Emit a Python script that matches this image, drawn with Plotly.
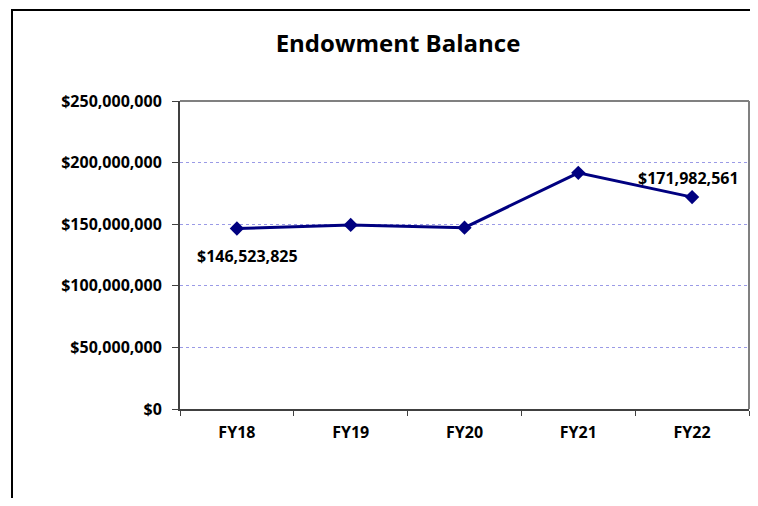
import plotly.graph_objects as go

categories = ["FY18", "FY19", "FY20", "FY21", "FY22"]
balances = [146523825, 149400000, 147200000, 191700000, 171982561]
label_points = {0: "$146,523,825", 4: "$171,982,561"}
y_ticks = [0, 50000000, 100000000, 150000000, 200000000, 250000000]
y_tick_text = ["$0", "$50,000,000", "$100,000,000", "$150,000,000", "$200,000,000", "$250,000,000"]

FONT = "'Open Sans', Lato, sans-serif"
FS = 16

W, H = 742, 490
L, R, T, B = 172, 741, 93, 401
PW, PH = R - L, B - T

fig = go.Figure()
fig.add_trace(go.Scatter(
    x=categories, y=balances, mode="lines+markers",
    line=dict(color="#000080", width=3),
    marker=dict(symbol="diamond", size=11, color="#000080"),
    hoverinfo="skip", showlegend=False,
))

for i, txt in label_points.items():
    if i == 0:
        fig.add_annotation(x=categories[i], y=balances[i], text="<b>%s</b>" % txt,
                           showarrow=False, xshift=11, yshift=-28,
                           font=dict(family=FONT, size=FS, color="black"))
    else:
        fig.add_annotation(x=categories[i], y=balances[i], text="<b>%s</b>" % txt,
                           showarrow=False, xshift=-4, yshift=19,
                           font=dict(family=FONT, size=FS, color="black"))

# outer frame (left and top edges; the rest lies outside the picture)
x_left = (4 - L) / PW
y_top = (B - 2) / PH
fig.add_shape(type="path", xref="paper", yref="paper",
              path="M %f,%f L %f,%f L %f,%f" % (x_left, -0.6, x_left, y_top, 1.3, y_top),
              line=dict(color="black", width=2), layer="below")

fig.update_layout(
    width=W, height=H,
    margin=dict(l=L, r=W - R, t=T, b=H - B, autoexpand=False),
    paper_bgcolor="white", plot_bgcolor="white",
    title=dict(text="<b>Endowment Balance</b>", x=390 / W, xanchor="center",
               y=1 - 36 / H, yanchor="middle",
               font=dict(family=FONT, size=24, color="black")),
    font=dict(family=FONT, color="black"),
    xaxis=dict(
        type="category", range=[-0.5, 4.5], tickson="boundaries",
        ticks="outside", ticklen=5, tickcolor="#404040", tickwidth=1,
        showline=True, linecolor="#404040", linewidth=2, mirror=False,
        showgrid=False, tickfont=dict(family=FONT, size=FS, color="black"),
        tickprefix="<b>", ticksuffix="</b>", ticklabelstandoff=8, fixedrange=True,
    ),
    yaxis=dict(
        range=[0, 250000000], tickvals=y_ticks,
        ticktext=["<b>%s</b>" % t for t in y_tick_text],
        ticks="outside", ticklen=6, tickcolor="#404040", tickwidth=1,
        showline=True, linecolor="#404040", linewidth=2,
        showgrid=True, gridcolor="#9a9ae6", griddash="dot", gridwidth=1,
        zeroline=False, tickfont=dict(family=FONT, size=FS, color="black"),
        ticklabelstandoff=7, fixedrange=True,
    ),
)

# gray plot-area border on top and right
fig.add_shape(type="line", xref="paper", yref="paper", x0=0, x1=1, y0=1, y1=1,
              line=dict(color="#808080", width=2))
fig.add_shape(type="line", xref="paper", yref="paper", x0=1, x1=1, y0=0, y1=1,
              line=dict(color="#808080", width=2))

fig.write_html("out.html")
